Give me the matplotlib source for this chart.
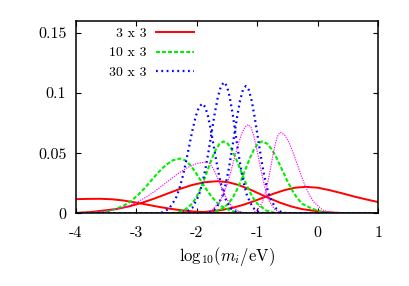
import matplotlib
matplotlib.use("Agg")
import matplotlib.pyplot as plt

plt.rcParams['font.family'] = ['cmr10']
plt.rcParams['mathtext.fontset'] = 'cm'
plt.rcParams['axes.unicode_minus'] = False
plt.rcParams['axes.formatter.use_mathtext'] = True

# ---- data ----
legend_labels = ["3 x 3", "10 x 3", "30 x 3"]
x_ticks = [-4, -3, -2, -1, 0, 1]
x_tick_labels = ["-4", "-3", "-2", "-1", "0", "1"]
y_ticks = [0, 0.05, 0.1, 0.15]
y_tick_labels = ["0", "0.05", "0.1", "0.15"]
x_label = r"$\mathrm{log}_{10}(m_i/\mathrm{eV})$"

# red, 3 x 3
red1_x = [-4.0, -3.8, -3.6, -3.4075, -3.215, -3.0225, -2.83, -2.6375, -2.445, -2.2525, -2.06, -1.675, -1.29, -0.905, 1.0]
red1_y = [0.0119, 0.01212, 0.0122, 0.01182, 0.01077, 0.00921, 0.0074, 0.00559, 0.00396, 0.00264, 0.00165, 0.00054, 0.000135, 0.000027, 0.0]
red2_x = [-4.0, -3.76, -3.34, -3.13, -2.92, -2.71, -2.50, -2.29, -2.08, -1.87, -1.66, -1.485, -1.31, -1.135, -0.96, -0.785, -0.61, -0.435, -0.26, 0.09, 0.44, 0.79, 1.0]
red2_y = [0.00055, 0.00118, 0.00363, 0.0058, 0.0087, 0.01227, 0.01625, 0.02023, 0.02365, 0.02597, 0.0268, 0.02597, 0.02365, 0.02023, 0.01625, 0.01227, 0.0087, 0.0058, 0.00363, 0.00118, 0.0003, 0.00006, 0.0]
red3_x = [-4.0, -2.615, -2.27, -1.925, -1.58, -1.4075, -1.235, -1.0625, -0.89, -0.7175, -0.545, -0.3725, -0.2, 0.0, 0.2, 0.4, 0.6, 0.8, 1.0]
red3_y = [0.0, 0.00005, 0.00025, 0.00097, 0.00299, 0.00478, 0.00718, 0.01012, 0.0134, 0.01668, 0.0195, 0.02142, 0.0221, 0.0214, 0.0193, 0.0168, 0.0141, 0.0117, 0.0095]

# green, 10 x 3
green1_x = [-4.0, -3.925, -3.69, -3.455, -3.22, -3.1025, -2.985, -2.8675, -2.75, -2.6325, -2.515, -2.3975, -2.28, -2.195, -2.11, -2.025, -1.94, -1.855, -1.77, -1.685, -1.60, -1.43, -1.26, -1.09, 1.0]
green1_y = [0.00006, 0.0001, 0.00051, 0.002, 0.00617, 0.00986, 0.01481, 0.02088, 0.02766, 0.03442, 0.04024, 0.0442, 0.0456, 0.0442, 0.04024, 0.03442, 0.02766, 0.02088, 0.01481, 0.00986, 0.00617, 0.002, 0.00051, 0.0001, 0.0]
green2_x = [-4.0, -2.47, -2.34, -2.21, -2.08, -2.015, -1.95, -1.885, -1.82, -1.755, -1.69, -1.625, -1.56, -1.49, -1.42, -1.35, -1.28, -1.21, -1.14, -1.07, -1.00, -0.86, -0.72, -0.58, 1.0]
green2_y = [0.0, 0.00013, 0.00066, 0.00263, 0.00809, 0.01293, 0.01942, 0.02738, 0.03627, 0.04514, 0.05277, 0.05796, 0.0598, 0.05796, 0.05277, 0.04514, 0.03627, 0.02738, 0.01942, 0.01293, 0.00809, 0.00263, 0.00066, 0.00013, 0.0]
green3_x = [-4.0, -1.90, -1.76, -1.62, -1.48, -1.41, -1.34, -1.27, -1.20, -1.13, -1.06, -0.99, -0.92, -0.8375, -0.755, -0.6725, -0.59, -0.5075, -0.425, -0.3425, -0.26, -0.095, 0.07, 0.235, 1.0]
green3_y = [0.0, 0.00013, 0.00066, 0.00263, 0.00809, 0.01293, 0.01942, 0.02738, 0.03627, 0.04514, 0.05277, 0.05796, 0.0598, 0.05796, 0.05277, 0.04514, 0.03627, 0.02738, 0.01942, 0.01293, 0.00809, 0.0040, 0.0012, 0.0003, 0.0]

# blue, 30 x 3
blue1_x = [-4.0, -2.68, -2.57, -2.46, -2.35, -2.295, -2.24, -2.185, -2.13, -2.075, -2.02, -1.965, -1.91, -1.8625, -1.815, -1.7675, -1.72, -1.6725, -1.625, -1.5775, -1.53, -1.435, -1.34, -1.245, 1.0]
blue1_y = [0.0, 0.0002, 0.00101, 0.004, 0.01234, 0.01973, 0.02961, 0.04175, 0.05531, 0.06884, 0.08048, 0.08839, 0.0912, 0.08839, 0.08048, 0.06884, 0.05531, 0.04175, 0.02961, 0.01973, 0.01234, 0.004, 0.00101, 0.0002, 0.0]
blue2_x = [-4.0, -2.285, -2.18, -2.075, -1.97, -1.9175, -1.865, -1.8125, -1.76, -1.7075, -1.655, -1.6025, -1.55, -1.5025, -1.455, -1.4075, -1.36, -1.3125, -1.265, -1.2175, -1.17, -1.075, -0.98, -0.885, 1.0]
blue2_y = [0.0, 0.00024, 0.00121, 0.00479, 0.01475, 0.02358, 0.03539, 0.0499, 0.06611, 0.08227, 0.09619, 0.10564, 0.109, 0.10564, 0.09619, 0.08227, 0.06611, 0.0499, 0.03539, 0.02358, 0.01475, 0.00479, 0.00121, 0.00024, 0.0]
blue3_x = [-4.0, -1.8725, -1.775, -1.6775, -1.58, -1.531, -1.4825, -1.434, -1.385, -1.336, -1.2875, -1.239, -1.19, -1.141, -1.0925, -1.044, -0.995, -0.946, -0.8975, -0.849, -0.80, -0.7025, -0.605, -0.5075, 1.0]
blue3_y = [0.0, 0.00023, 0.00117, 0.00464, 0.01431, 0.02288, 0.03435, 0.04844, 0.06417, 0.07986, 0.09337, 0.10254, 0.1058, 0.10254, 0.09337, 0.07986, 0.06417, 0.04844, 0.03435, 0.02288, 0.01431, 0.00464, 0.00117, 0.00023, 0.0]

# magenta (thin dotted, not in the key)
mag1_x = [-4.0, -3.82, -3.49, -3.16, -2.995, -2.83, -2.665, -2.50, -2.335, -2.17, -2.005, -1.84, -1.7875, -1.735, -1.6825, -1.63, -1.5775, -1.525, -1.4725, -1.42, -1.315, -1.21, -1.105, 1.0]
mag1_y = [0.0002, 0.00048, 0.00188, 0.00579, 0.00926, 0.0139, 0.01959, 0.02596, 0.03231, 0.03777, 0.04148, 0.0428, 0.04148, 0.03777, 0.03231, 0.02596, 0.01959, 0.0139, 0.00926, 0.00579, 0.00188, 0.00048, 0.00009, 0.0]
mag2_x = [-4.0, -1.9725, -1.855, -1.7375, -1.62, -1.561, -1.5025, -1.444, -1.385, -1.326, -1.2675, -1.209, -1.15, -1.106, -1.0625, -1.019, -0.975, -0.931, -0.8875, -0.844, -0.80, -0.7125, -0.625, -0.5375, 1.0]
mag2_y = [0.0, 0.00016, 0.00082, 0.00324, 0.00999, 0.01596, 0.02396, 0.03379, 0.04476, 0.0557, 0.06513, 0.07153, 0.0738, 0.07153, 0.06513, 0.0557, 0.04476, 0.03379, 0.02396, 0.01596, 0.00999, 0.00324, 0.00082, 0.00016, 0.0]
mag3_x = [-4.0, -1.145, -1.07, -0.995, -0.92, -0.8825, -0.845, -0.8075, -0.77, -0.7325, -0.695, -0.6575, -0.62, -0.55, -0.48, -0.41, -0.34, -0.27, -0.20, -0.13, -0.06, 0.08, 0.22, 0.36, 1.0]
mag3_y = [0.0, 0.00015, 0.00075, 0.00295, 0.00911, 0.01456, 0.02185, 0.03081, 0.04082, 0.0508, 0.05939, 0.06523, 0.0673, 0.06523, 0.05939, 0.0508, 0.04082, 0.03081, 0.02185, 0.01456, 0.00911, 0.00295, 0.00075, 0.00015, 0.0]

# ---- figure ----
fig = plt.figure(figsize=(4.09, 2.86), dpi=100)
ax = fig.add_axes([0.1858, 0.2535, 0.7390, 0.6741])

red_style = dict(color='#ff0000', lw=1.4, ls='-')
green_style = dict(color='#00ee00', lw=1.5, ls=(0, (1.9, 1.0)))
blue_style = dict(color='#0000ff', lw=1.6, ls=(0, (0.8, 1.6)))
mag_style = dict(color='#ff00ff', lw=0.8, ls=(0, (1.1, 1.1)))

ax.plot(red1_x, red1_y, label=legend_labels[0], **red_style)
ax.plot(red2_x, red2_y, **red_style)
ax.plot(red3_x, red3_y, **red_style)
ax.plot(green1_x, green1_y, label=legend_labels[1], **green_style)
ax.plot(green2_x, green2_y, **green_style)
ax.plot(green3_x, green3_y, **green_style)
ax.plot(blue1_x, blue1_y, label=legend_labels[2], **blue_style)
ax.plot(blue2_x, blue2_y, **blue_style)
ax.plot(blue3_x, blue3_y, **blue_style)
ax.plot(mag1_x, mag1_y, **mag_style)
ax.plot(mag2_x, mag2_y, **mag_style)
ax.plot(mag3_x, mag3_y, **mag_style)

ax.set_xlim(-4, 1)
ax.set_ylim(0, 0.16)
ax.set_xticks(x_ticks)
ax.set_xticklabels(x_tick_labels)
ax.set_yticks(y_ticks)
ax.set_yticklabels(y_tick_labels)
ax.tick_params(direction='in', top=True, right=True, length=3.6, width=0.8,
               labelsize=11.5)
ax.tick_params(axis='x', pad=9)
ax.tick_params(axis='y', pad=7)
for s in ax.spines.values():
    s.set_linewidth(1.1)
ax.set_xlabel(x_label, fontsize=12, labelpad=4)

leg = ax.legend(loc='upper right', bbox_to_anchor=(0.390, 0.967), frameon=False,
                markerfirst=False, fontsize=10, handlelength=2.7,
                handletextpad=0.7, labelspacing=0.5, borderpad=0,
                borderaxespad=0)

fig.savefig("out.png", dpi=100)
